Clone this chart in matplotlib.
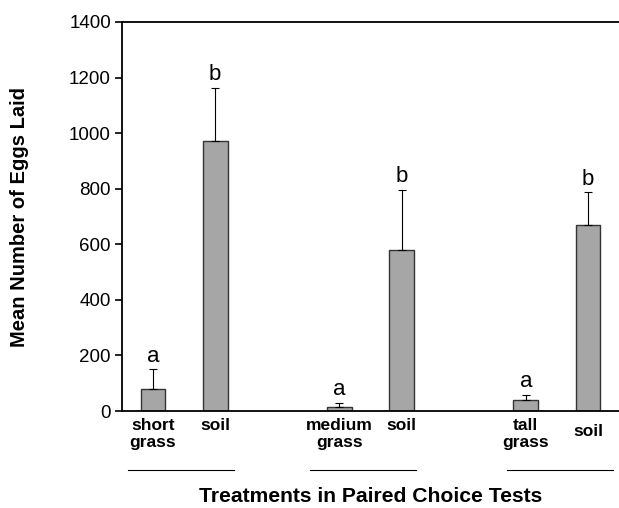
import numpy as np
import matplotlib.pyplot as plt
import matplotlib.transforms as mtransforms

plt.rcParams['font.family'] = ['Liberation Sans', 'DejaVu Sans']

# data
labels = ['short\ngrass', 'soil', 'medium\ngrass', 'soil', 'tall\ngrass', 'soil']
means = [78, 973, 15, 579, 38, 668]
upper_err = [72, 190, 15, 216, 21, 119]
letters = ['a', 'b', 'a', 'b', 'a', 'b']

pos = np.array([0, 1, 3, 4, 6, 7])
pair_centers = [0.45, 3.38, 6.55]

fig = plt.figure(figsize=(6.19, 5.08), dpi=100)
ax = fig.add_axes([122 / 619, 97 / 508, 1 - 122 / 619, 389 / 508])

ax.bar(pos, means, width=0.4, color='#a6a6a6', edgecolor='#333333', linewidth=1.0,
       yerr=[np.zeros(len(means)), upper_err], capsize=3,
       error_kw=dict(ecolor='black', elinewidth=0.8, capthick=0.8))

for x, m, e, t in zip(pos, means, upper_err, letters):
    ax.annotate(t, (x, m + e), xytext=(0, 2), textcoords='offset points',
                ha='center', va='bottom', fontsize=16)

ax.set_xlim(-0.5, 7.5)
ax.set_ylim(0, 1400)
ax.set_yticks(np.arange(0, 1401, 200))
ax.tick_params(axis='y', direction='out', length=5, width=1.2, labelsize=13.5, pad=3)

ax.set_xticks(pos)
ax.set_xticklabels(labels, fontsize=12.5, fontweight='bold', linespacing=1.15)
ax.tick_params(axis='x', length=0, pad=5)
ax.xaxis.get_major_ticks()[5].set_pad(9)

for s in ['left', 'top', 'bottom']:
    ax.spines[s].set_linewidth(1.3)
ax.spines['right'].set_visible(False)

# group underlines
trans = mtransforms.blended_transform_factory(ax.transData, ax.transAxes)
for c in pair_centers:
    ax.plot([c - 0.85, c + 0.85], [-0.152, -0.152], color='black', lw=0.8,
            transform=trans, clip_on=False)

fig.text(20 / 619, 1 - 217 / 508, 'Mean Number of Eggs Laid', rotation=90,
         ha='center', va='center', fontsize=14.5, fontweight='bold')
fig.text(371 / 619, 1 - 496 / 508, 'Treatments in Paired Choice Tests',
         ha='center', va='center', fontsize=15.2, fontweight='bold')

fig.savefig('out.png', dpi=100)
